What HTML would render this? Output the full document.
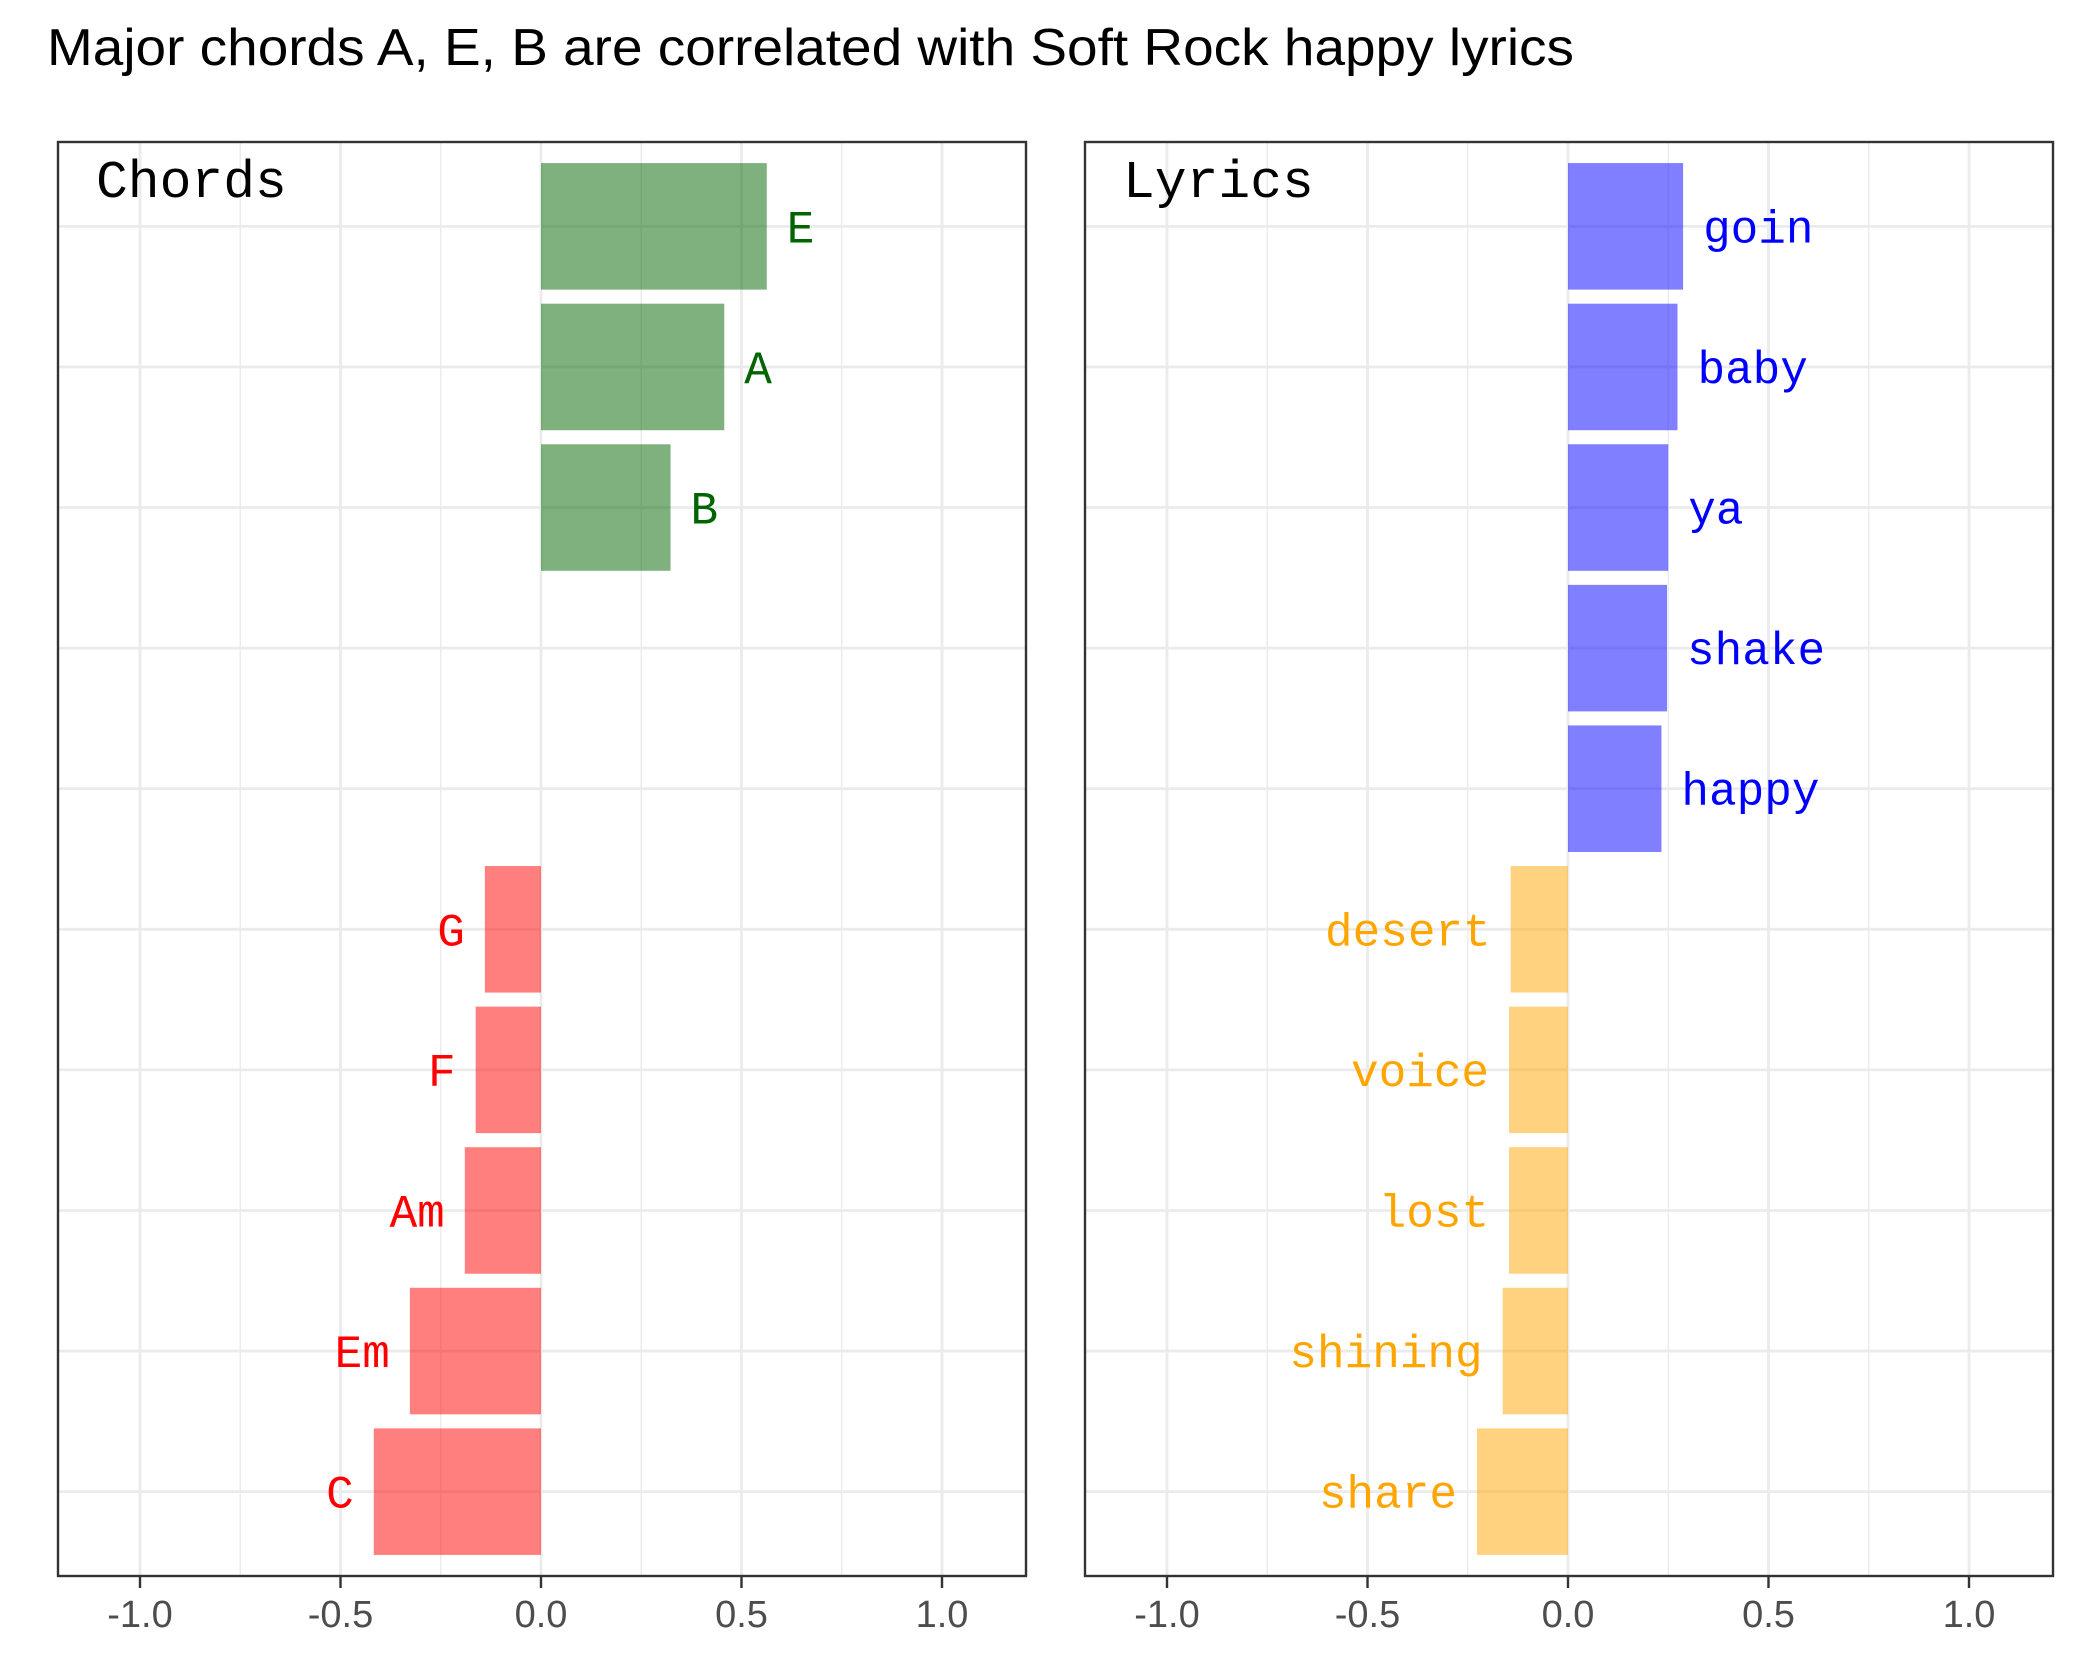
<!DOCTYPE html>
<html><head><meta charset="utf-8"><style>html,body{margin:0;padding:0;background:#fff}svg{display:block}</style></head>
<body>
<svg id="chart" width="2100" height="1680" xmlns="http://www.w3.org/2000/svg">
<rect width="2100" height="1680" fill="#fff"/>
<text x="47" y="65" font-family="Liberation Sans, sans-serif" font-size="52" textLength="1527" lengthAdjust="spacingAndGlyphs" fill="#000">Major chords A, E, B are correlated with Soft Rock happy lyrics</text>
</svg>
<script>
const chordCats = ["E","A","B","","","G","F","Am","Em","C"];
const chordVals = [0.563,0.457,0.323,null,null,-0.14,-0.163,-0.19,-0.327,-0.417];
const lyricCats = ["goin","baby","ya","shake","happy","desert","voice","lost","shining","share"];
const lyricVals = [0.287,0.273,0.25,0.247,0.233,-0.143,-0.147,-0.147,-0.163,-0.227];
const xTicks = [-1.0,-0.5,0.0,0.5,1.0];
const xTickLabels = ["-1.0","-0.5","0.0","0.5","1.0"];
const xMinor = [-0.75,-0.25,0.25,0.75];

const NS="http://www.w3.org/2000/svg";
const svgEl=document.getElementById('chart');
function mk(tag,attrs,parent){const e=document.createElementNS(NS,tag);for(const k in attrs)e.setAttribute(k,attrs[k]);(parent||svgEl).appendChild(e);return e;}
const plotTop=142,plotBottom=1576,unit=401,rowH=(plotBottom-plotTop)/10.2;
function yRow(i){return plotTop+rowH*(0.6+i);}

function panel(name,left,right,zero,cats,vals,posBar,negBar,posTxt,negTxt,titleText){
  const g=mk('g',{});
  
  
  const x=v=>zero+v*unit;
  xMinor.forEach(v=>{const l=mk('line',{x1:x(v),x2:x(v),y1:plotTop,y2:plotBottom,stroke:'#EBEBEB','stroke-width':1.4},g);
    
    });
  xTicks.forEach(v=>{const l=mk('line',{x1:x(v),x2:x(v),y1:plotTop,y2:plotBottom,stroke:'#EBEBEB','stroke-width':2.8},g);
    
    });
  cats.forEach((c,i)=>{const l=mk('line',{x1:left,x2:right,y1:yRow(i),y2:yRow(i),stroke:'#EBEBEB','stroke-width':2.8},g);
    
    });
  cats.forEach((c,i)=>{
    const v=vals[i]; if(v===null||v===undefined)return;
    const h=rowH*0.9, yc=yRow(i);
    const r=mk('rect',{x:Math.min(x(0),x(v)),y:yc-h/2,width:Math.abs(x(v)-x(0)),height:h,fill:v>=0?posBar:negBar},g);
    
    
    const t=mk('text',{x:v>=0?x(v)+20:x(v)-20,y:yc+16,'text-anchor':v>=0?'start':'end','font-family':'Liberation Mono, monospace','font-size':46,fill:v>=0?posTxt:negTxt},g);
    t.textContent=c;
    
    
  });
  const b=mk('rect',{x:left,y:plotTop,width:right-left,height:plotBottom-plotTop,fill:'none',stroke:'#333','stroke-width':2.4},g);
  
  
  xTicks.forEach((v,i)=>{
    const tk=mk('line',{x1:x(v),x2:x(v),y1:plotBottom,y2:plotBottom+12,stroke:'#333','stroke-width':2.4},g);
    
    
    const t=mk('text',{x:x(v),y:1627,'text-anchor':'middle','font-family':'Liberation Sans, sans-serif','font-size':38,fill:'#4D4D4D'},g);
    t.textContent=xTickLabels[i];
    
    
  });
  const tt=mk('text',{x:left+38,y:197,'font-family':'Liberation Mono, monospace','font-size':53,fill:'#000'},g);
  tt.textContent=titleText;
  
  
}
panel('chords',58,1026,541,chordCats,chordVals,'rgba(0,100,0,0.5)','rgba(255,0,0,0.5)','#006400','#FF0000','Chords');
panel('lyrics',1085,2053,1568,lyricCats,lyricVals,'rgba(0,0,255,0.5)','rgba(255,165,0,0.5)','#0000FF','#FFA500','Lyrics');
</script>
</body></html>
